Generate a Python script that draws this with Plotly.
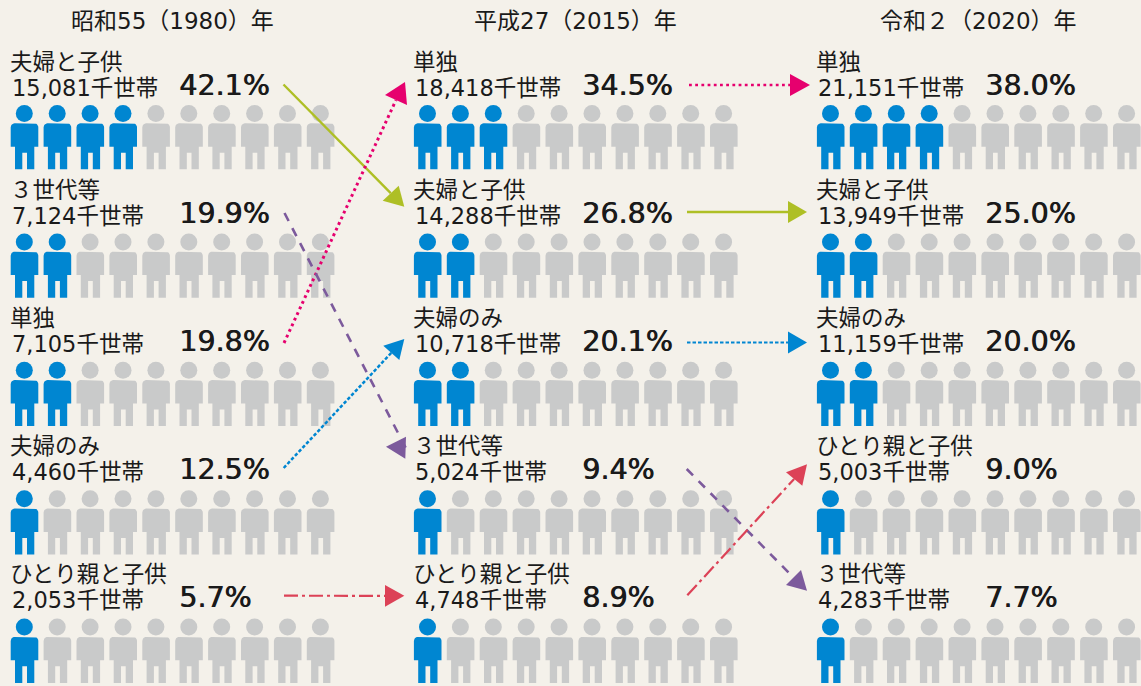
import plotly.graph_objects as go

# ---------- data ----------
YEARS = ["昭和55（1980）年", "平成27（2015）年", "令和２（2020）年"]

LABELS_1980 = ["夫婦と子供", "３世代等", "単独", "夫婦のみ", "ひとり親と子供"]
HOUSEHOLDS_1980 = ["15,081", "7,124", "7,105", "4,460", "2,053"]
PERCENT_1980 = [42.1, 19.9, 19.8, 12.5, 5.7]

LABELS_2015 = ["単独", "夫婦と子供", "夫婦のみ", "３世代等", "ひとり親と子供"]
HOUSEHOLDS_2015 = ["18,418", "14,288", "10,718", "5,024", "4,748"]
PERCENT_2015 = [34.5, 26.8, 20.1, 9.4, 8.9]

LABELS_2020 = ["単独", "夫婦と子供", "夫婦のみ", "ひとり親と子供", "３世代等"]
HOUSEHOLDS_2020 = ["21,151", "13,949", "11,159", "5,003", "4,283"]
PERCENT_2020 = [38.0, 25.0, 20.0, 9.0, 7.7]

FILLED_1980 = [4, 2, 2, 1, 1]
FILLED_2015 = [3, 2, 2, 1, 1]
FILLED_2020 = [4, 2, 2, 1, 1]

PANELS = [
    (LABELS_1980, HOUSEHOLDS_1980, PERCENT_1980, FILLED_1980),
    (LABELS_2015, HOUSEHOLDS_2015, PERCENT_2015, FILLED_2015),
    (LABELS_2020, HOUSEHOLDS_2020, PERCENT_2020, FILLED_2020),
]

# ---------- style & layout ----------
W, H = 1141, 686
BG = "#f4f1ea"
BLUE = "#0086d1"
GRAY = "#c9caca"
GREEN = "#aebf25"
PINK = "#e6006e"
PURPLE = "#7c5a9c"
RED = "#dc4257"
INK = "#1a1a1a"
FONT = "DejaVu Sans, Noto Sans CJK JP"

PANEL_X = [10.7, 413.9, 816.9]
PITCH_X = 32.9
ROW_TOP = 123.3
ROW_PITCH = 128.4
N_ICONS = 10


def corner(cx, cy, r, a0):
    import math
    return [(cx + r * math.cos(math.radians(a0 + i * 15)),
             cy + r * math.sin(math.radians(a0 + i * 15))) for i in range(7)]


def body_points():
    pts = corner(4, 4, 4, 180) + corner(23.6, 4, 4, 270)
    pts += [(27.6, 23.4), (23.6, 23.4), (23.6, 46), (16.3, 46), (16.3, 29.4),
            (11.6, 29.4), (11.6, 46), (4.3, 46), (4.3, 23.4), (0, 23.4)]
    pts.append(pts[0])
    return pts


BODY = body_points()

fig = go.Figure()

for filled_color, want_filled in ((BLUE, True), (GRAY, False)):
    bx, by, hx, hy = [], [], [], []
    for p, (labels, households, pcts, filled) in enumerate(PANELS):
        for r in range(len(labels)):
            for c in range(N_ICONS):
                if (c < filled[r]) != want_filled:
                    continue
                x0 = PANEL_X[p] + c * PITCH_X
                y0 = ROW_TOP + r * ROW_PITCH
                bx += [x0 + q[0] for q in BODY] + [None]
                by += [y0 + q[1] for q in BODY] + [None]
                hx.append(x0 + 13.6)
                hy.append(y0 - 9.8)
    fig.add_trace(go.Scatter(x=bx, y=by, mode="lines", fill="toself", fillcolor=filled_color,
                             line=dict(width=0, color=filled_color), hoverinfo="skip"))
    fig.add_trace(go.Scatter(x=hx, y=hy, mode="markers", hoverinfo="skip",
                             marker=dict(size=17, color=filled_color, line=dict(width=0))))

# arrows: start, tip, two back corners of the head, colour, dash, width
ARROWS = [
    ((283.5, 84.5), (404.3, 206.7), (382.7, 200.7), (398.7, 185.7), GREEN, "solid", 2.4),
    ((284, 343), (405, 82), (385, 95), (407, 105), PINK, "2.8px,3.4px", 3.0),
    ((284.5, 213), (386, 446.7), (406, 436.7), (405.3, 458.7), PURPLE, "9px,8px", 2.6),
    ((283.7, 468), (404.3, 339), (383.3, 345.7), (399.3, 360), BLUE, "3.5px,2px", 2.5),
    ((284, 595.7), (404.3, 595.7), (385, 585), (385, 606.7), RED, "14px,4px,3px,4px", 2.2),
    ((689, 85), (810, 85), (790, 74), (790, 96), PINK, "2.8px,3.4px", 2.6),
    ((687, 212), (807, 212), (788, 201), (788, 223), GREEN, "solid", 2.4),
    ((687, 342.5), (807, 342.5), (788, 331.5), (788, 353.5), BLUE, "3.5px,2px", 2.2),
    ((686.7, 469), (807, 590.7), (786, 585), (801, 570), PURPLE, "9px,8px", 2.6),
    ((687.3, 595.3), (807, 464.3), (786, 472.3), (802.3, 485.7), RED, "14px,4px,3px,4px", 2.2),
]
for s, t, b1, b2, col, dash, w in ARROWS:
    mid = ((b1[0] + b2[0]) / 2, (b1[1] + b2[1]) / 2)
    fig.add_trace(go.Scatter(x=[s[0], mid[0]], y=[s[1], mid[1]], mode="lines", hoverinfo="skip",
                             line=dict(color=col, width=w, dash=dash)))
    fig.add_trace(go.Scatter(x=[t[0], b1[0], b2[0], t[0]], y=[t[1], b1[1], b2[1], t[1]],
                             mode="lines", fill="toself", fillcolor=col, hoverinfo="skip",
                             line=dict(width=0, color=col)))

annotations = []


def add_text(x, y, text, size, anchor="left", shadow=None):
    font = dict(family=FONT, size=size, color=INK)
    if shadow:
        font["shadow"] = shadow
    annotations.append(dict(x=x, y=y, text=text, showarrow=False, xanchor=anchor, yanchor="middle",
                            xref="x", yref="y", borderpad=0, font=font))


TITLE_X = [172.5, 575, 978.5]
for p, year in enumerate(YEARS):
    add_text(TITLE_X[p], 20.5, year, 23, anchor="center")

for p, (labels, households, pcts, filled) in enumerate(PANELS):
    x = PANEL_X[p]
    for r in range(5):
        y = r * 128
        add_text(x - 1.5, 61.5 + y, labels[r], 22.5)
        add_text(x, 87.8 + y, households[r] + "千世帯", 22.5)
        add_text(x + 167, 85 + y, f"{pcts[r]:.1f}%", 28.5, shadow="0.7px 0 0 " + INK)

fig.update_layout(
    width=W, height=H, margin=dict(l=0, r=0, t=0, b=0), showlegend=False,
    paper_bgcolor=BG, plot_bgcolor=BG, annotations=annotations,
    xaxis=dict(range=[0, W], visible=False, fixedrange=True),
    yaxis=dict(range=[H, 0], visible=False, fixedrange=True),
)
fig.write_html("out.html", config={"displayModeBar": False},
               post_script="document.body.style.margin='0';document.documentElement.style.background='%s';" % BG)
